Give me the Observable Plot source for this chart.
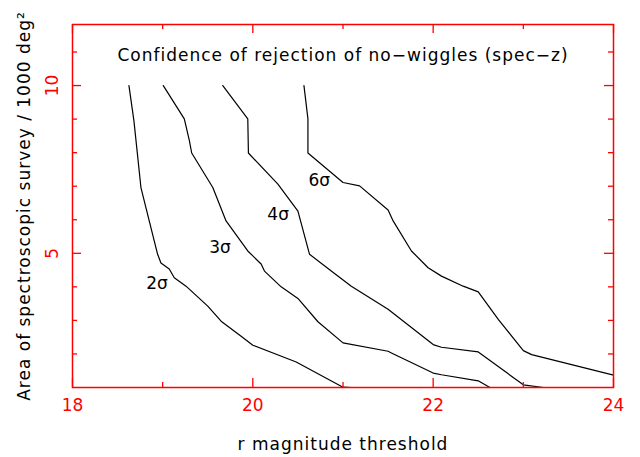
<!DOCTYPE html>
<html><head><meta charset="utf-8">
<script src="https://cdn.jsdelivr.net/npm/d3@7"></script>
<script src="https://cdn.jsdelivr.net/npm/@observablehq/plot@0.6"></script>
<style>html,body{margin:0;padding:0;background:#fff}</style>
</head><body><div id="chart"></div>
<script>
// ---- data ----
const levels = ["2σ", "3σ", "4σ", "6σ"];
const mag2 = [18.626, 18.681, 18.759, 18.851, 18.944, 18.981, 19.073, 19.129, 19.259, 19.5, 19.648, 19.87, 20.0, 20.481, 21.0, 21.092];
const area2 = [10, 8.954, 6.96, 5.965, 4.97, 4.71, 4.53, 4.27, 4.02, 3.425, 2.977, 2.53, 2.26, 1.76, 1.01, 1.0];
const mag3 = [19.007, 19.24, 19.296, 19.322, 19.556, 19.703, 19.944, 20.092, 20.129, 20.314, 20.5, 20.722, 21.0, 21.5, 21.537, 22.0, 22.092, 22.5, 22.629];
const area3 = [10, 9.005, 8.36, 7.99, 6.96, 5.965, 5.07, 4.68, 4.47, 4.0, 3.655, 2.96, 2.33, 2.08, 2.03, 1.43, 1.38, 1.2, 1.0];
const mag4 = [19.667, 19.944, 19.951, 20.278, 20.5, 20.629, 20.87, 21.092, 21.5, 22.0, 22.092, 22.5, 23.0, 23.222];
const area4 = [10, 9.005, 7.99, 7.06, 6.26, 4.97, 4.47, 4.02, 3.33, 2.28, 2.2, 2.06, 1.08, 1.0];
const mag6 = [20.567, 20.611, 20.611, 21.0, 21.184, 21.5, 21.556, 21.759, 21.944, 22.092, 22.333, 22.5, 22.722, 23.0, 23.092, 24.0];
const area6 = [10, 9.005, 7.99, 7.11, 7.01, 6.29, 5.965, 5.07, 4.57, 4.32, 4.02, 3.85, 3.03, 2.1, 1.98, 1.37];
const labelMag = [18.937, 19.637, 20.281, 20.737];
const labelArea = [4.11, 5.16, 6.17, 7.16];
const xMajorTicks = [18, 20, 22, 24];
const xMinorTicks = [19, 21, 23];
const yMajorTicks = [5, 10];
const yMinorTicks = [2, 3, 4, 6, 7, 8, 9, 11];
const titleText = "Confidence of rejection of no\u2212wiggles (spec\u2212z)";
const xLabelText = "r magnitude threshold";
const yLabelText = "Area of spectroscopic survey / 1000 deg\u00B2";

// ---- build table ----
const series = [[mag2, area2], [mag3, area3], [mag4, area4], [mag6, area6]];
const rows = series.flatMap(([m, a], i) => m.map((v, j) => ({level: levels[i], mag: v, area: a[j]})));
const labels = levels.map((t, i) => ({text: t, mag: labelMag[i], area: labelArea[i]}));

const W = 640, H = 457, mL = 72, mR = 27, mT = 24, mB = 70;
const innerW = W - mL - mR, innerH = H - mT - mB;
const RED = "#ff0000";
const FS = 17;

const chart = Plot.plot({
  width: W, height: H,
  marginLeft: mL, marginRight: mR, marginTop: mT, marginBottom: mB,
  x: {domain: [18, 24]},
  y: {domain: [1, 11.82]},
  style: {fontFamily: "DejaVu Sans", background: "white", color: "black"},
  marks: [
    Plot.line(rows, {x: "mag", y: "area", z: "level", stroke: "black", strokeWidth: 1.2}),
    Plot.text(labels, {x: "mag", y: "area", text: "text", fontSize: FS, fill: "black"}),
    // inward ticks
    Plot.tickX(xMajorTicks, {x: d => d, stroke: RED, strokeWidth: 1.3, insetTop: innerH - 9}),
    Plot.tickX(xMajorTicks, {x: d => d, stroke: RED, strokeWidth: 1.3, insetBottom: innerH - 9}),
    Plot.tickX(xMinorTicks, {x: d => d, stroke: RED, strokeWidth: 1.3, insetTop: innerH - 5}),
    Plot.tickX(xMinorTicks, {x: d => d, stroke: RED, strokeWidth: 1.3, insetBottom: innerH - 5}),
    Plot.tickY(yMajorTicks, {y: d => d, stroke: RED, strokeWidth: 1.3, insetRight: innerW - 9}),
    Plot.tickY(yMajorTicks, {y: d => d, stroke: RED, strokeWidth: 1.3, insetLeft: innerW - 9}),
    Plot.tickY(yMinorTicks, {y: d => d, stroke: RED, strokeWidth: 1.3, insetRight: innerW - 5}),
    Plot.tickY(yMinorTicks, {y: d => d, stroke: RED, strokeWidth: 1.3, insetLeft: innerW - 5}),
    // tick labels
    Plot.axisX(xMajorTicks, {anchor: "bottom", tickSize: 0, tickPadding: 11, color: RED, fill: RED, fontSize: FS, label: null}),
    Plot.axisY(yMajorTicks, {anchor: "left", tickSize: 0, tickPadding: 20, tickRotate: -90, lineAnchor: "middle", textAnchor: "middle", color: RED, fill: RED, fontSize: FS, label: null}),
    // titles
    Plot.text([titleText], {frameAnchor: "top", dy: 31, lineAnchor: "middle", textAnchor: "middle", fontSize: FS, fill: "black"}),
    Plot.text([xLabelText], {frameAnchor: "bottom", dy: 57, lineAnchor: "middle", textAnchor: "middle", fontSize: FS, fill: "black"}),
    Plot.text([yLabelText], {frameAnchor: "left", dx: -48, rotate: -90, lineAnchor: "middle", textAnchor: "middle", fontSize: FS, fill: "black"}),
    Plot.frame({stroke: RED, strokeWidth: 1.5})
  ]
});
chart.querySelectorAll("text").forEach(t => {
  if ([titleText, xLabelText, yLabelText].includes(t.textContent)) t.style.letterSpacing = "1px";
});
document.getElementById("chart").appendChild(chart);
</script>
</body></html>
